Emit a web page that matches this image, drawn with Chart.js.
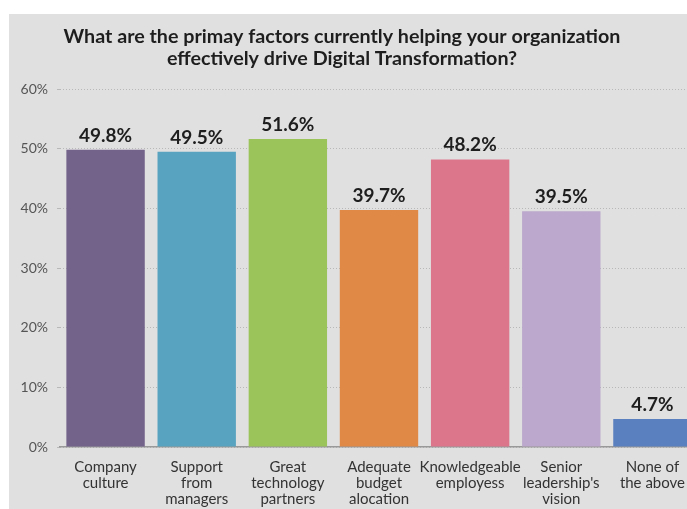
<!DOCTYPE html>
<html>
<head>
<meta charset="utf-8">
<script src="https://cdn.jsdelivr.net/npm/chart.js@4"></script>
<style>
  html, body { margin: 0; padding: 0; background: #fff; overflow: hidden; }
  #panel { position: absolute; left: 9px; top: 14px; width: 700px; height: 505px; background: #e0e0e0; }
</style>
</head>
<body>
<div id="panel"><canvas id="chart"></canvas></div>
<script>
// categories (multi-line tick labels)
const categories = [
  ['Company', 'culture'],
  ['Support', 'from', 'managers'],
  ['Great', 'technology', 'partners'],
  ['Adequate', 'budget', 'alocation'],
  ['Knowledgeable', 'employess'],
  ['Senior', "leadership's", 'vision'],
  ['None of', 'the above']
];
const values = [49.8, 49.5, 51.6, 39.7, 48.2, 39.5, 4.7];
const barColors = ['#73628a', '#58a3bf', '#9bc45a', '#e08845', '#dc778b', '#bba8cc', '#5b80bf'];
const yTicks = [0, 10, 20, 30, 40, 50, 60];
const titleLines = [
  'What are the primay factors currently helping your organization',
  'effectively drive Digital Transformation?'
];

// title drawn at the picture's centre, not the canvas centre
const titleText = {
  id: 'titleText',
  afterDraw(chart) {
    const ctx = chart.ctx;
    ctx.save();
    ctx.font = 'bold 19.7px Lato';
    ctx.fillStyle = '#1e1e1e';
    ctx.textAlign = 'center';
    ctx.textBaseline = 'middle';
    titleLines.forEach((line, i) => ctx.fillText(line, 333, 23 + i * 22));
    ctx.restore();
  }
};

// draws the value above every bar
const valueLabels = {
  id: 'valueLabels',
  afterDatasetsDraw(chart) {
    const ctx = chart.ctx;
    const meta = chart.getDatasetMeta(0);
    ctx.save();
    ctx.font = 'bold 19px Lato';
    ctx.fillStyle = '#1e1e1e';
    ctx.textAlign = 'center';
    ctx.textBaseline = 'alphabetic';
    meta.data.forEach((bar, i) => {
      ctx.fillText(values[i].toFixed(1) + '%', bar.x, bar.y - 8);
    });
    ctx.restore();
  }
};

const ctx = document.getElementById('chart').getContext('2d');
new Chart(ctx, {
  type: 'bar',
  data: {
    labels: categories,
    datasets: [{
      data: values,
      backgroundColor: barColors,
      borderWidth: 0,
      categoryPercentage: 0.86,
      barPercentage: 1
    }]
  },
  options: {
    responsive: true,
    maintainAspectRatio: false,
    animation: false,
    layout: { padding: { left: 0, right: 11, top: 75, bottom: 0 } },
    plugins: {
      legend: { display: false },
      tooltip: { enabled: false },
      title: { display: false }
    },
    scales: {
      x: {
        grid: { display: false, drawTicks: false },
        border: { display: true, color: '#999', width: 1.5 },
        ticks: {
          color: '#333',
          font: { family: 'Lato', size: 15, lineHeight: '16px' },
          padding: 12,
          maxRotation: 0,
          autoSkip: false
        }
      },
      y: {
        min: 0,
        max: 60,
        afterBuildTicks(scale) {
          scale.ticks = yTicks.map(v => ({ value: v }));
        },
        afterFit(scale) { scale.width = 51; },
        grid: {
          color: '#b8b8b8',
          tickLength: 3,
          drawTicks: true
        },
        border: { display: false, dash: [1, 2] },
        ticks: {
          color: '#555',
          font: { family: 'Lato', size: 14 },
          padding: 9,
          callback: v => v + '%'
        }
      }
    }
  },
  plugins: [valueLabels, titleText]
});
</script>
</body>
</html>
